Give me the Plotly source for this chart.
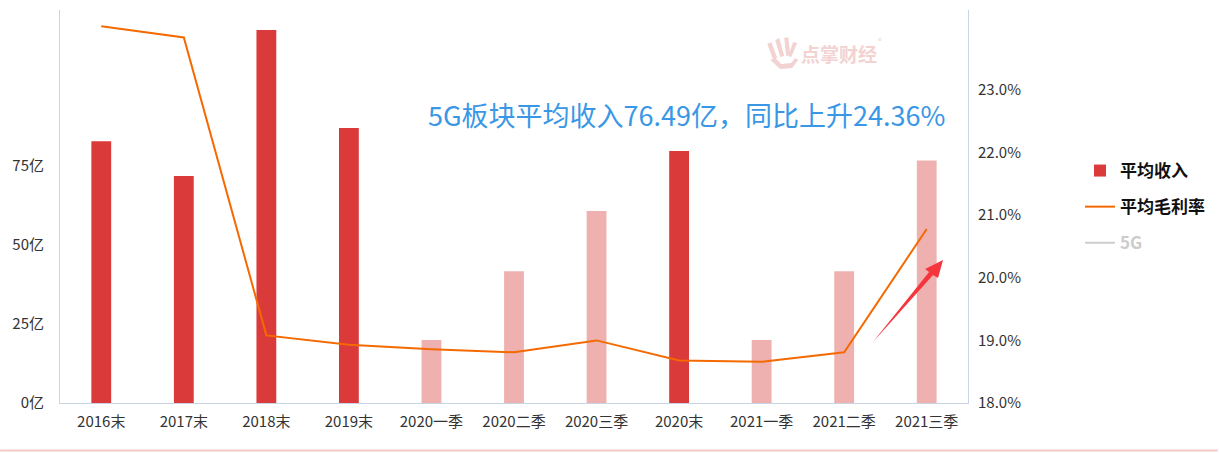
import plotly.graph_objects as go

# ---- data ----
categories = ["2016末", "2017末", "2018末", "2019末", "2020一季", "2020二季", "2020三季",
              "2020末", "2021一季", "2021二季", "2021三季"]
avg_revenue = [82.6, 71.6, 117.7, 86.8, 19.9, 41.6, 60.6, 79.5, 19.9, 41.6, 76.49]   # 亿
avg_margin = [24.02, 23.84, 19.08, 18.93, 18.86, 18.81, 19.00, 18.68, 18.66, 18.81, 20.78]  # %
fiveg_values = [None] * len(categories)   # hidden series, legend only
left_ticks = [0, 25, 50, 75]
left_labels = ["0亿", "25亿", "50亿", "75亿"]
right_ticks = [18, 19, 20, 21, 22, 23]
right_labels = ["18.0%", "19.0%", "20.0%", "21.0%", "22.0%", "23.0%"]
headline = "5G板块平均收入76.49亿，同比上升24.36%"

# ---- style ----
W, H = 1219, 453
ML, MR, MT, MB = 60, 250, 10, 50
PW, PH = W - ML - MR, H - MT - MB
DARK, LIGHT = "#DB3A3A", "#EFB0B0"
bar_colors = [DARK if c.endswith("末") else LIGHT for c in categories]
AXIS = "#C9D5E6"
FONT = "Noto Sans CJK SC"
WM = "#F3D2D2"


def px2paper(x, y):
    return (x - ML) / PW, (H - MB - y) / PH


def poly(points):
    q = [px2paper(x, y) for x, y in points]
    return "M " + " L ".join(f"{x:.4f},{y:.4f}" for x, y in q) + " Z"


fig = go.Figure()
fig.add_trace(go.Bar(
    x=categories, y=avg_revenue, name="平均收入",
    marker=dict(color=bar_colors, line=dict(width=0)),
    width=0.24, legendgroup="a", yaxis="y",
))
fig.add_trace(go.Scatter(
    x=categories, y=avg_margin, name="平均毛利率", mode="lines",
    line=dict(color="#F46A00", width=2), legendgroup="b", yaxis="y2",
))
fig.add_trace(go.Scatter(
    x=categories, y=fiveg_values, name="<span style='color:#CCCCCC'>5G</span>",
    mode="lines", line=dict(color="#CCCCCC", width=2), legendgroup="c", yaxis="y2",
))

# arrow polygon (decoration)
arrow = poly([(873, 343), (930, 272), (926, 269), (944, 260), (939, 278), (934, 275)])

# rough watermark hand logo
logo = [
    poly([(768, 44), (772, 42), (778, 58), (774, 60)]),
    poly([(776, 40), (780, 38), (785, 56), (781, 57)]),
    poly([(785, 38), (789, 37), (791, 55), (787, 56)]),
    poly([(794, 42), (798, 43), (792, 57), (789, 56)]),
    poly([(771, 60), (776, 58), (782, 64), (792, 63), (796, 58), (799, 60), (793, 68), (781, 69)]),
]

shapes = [
    dict(type="path", xref="paper", yref="paper", path=arrow,
         fillcolor="#F5363D", line=dict(width=0), layer="above"),
    dict(type="line", xref="paper", yref="paper",
         x0=px2paper(0, 0)[0], x1=px2paper(W, 0)[0],
         y0=px2paper(0, 450.5)[1], y1=px2paper(0, 450.5)[1],
         line=dict(color="#F6C8C8", width=2)),
]
for p in logo:
    shapes.append(dict(type="path", xref="paper", yref="paper", path=p,
                       fillcolor=WM, line=dict(width=0), layer="below"))

fig.update_layout(
    width=W, height=H,
    margin=dict(l=ML, r=MR, t=MT, b=MB, pad=0),
    paper_bgcolor="white", plot_bgcolor="white",
    font=dict(family=FONT, size=15, color="#333333"),
    showlegend=True,
    legend=dict(
        x=px2paper(1080, 0)[0], xanchor="left",
        y=px2paper(0, 153)[1], yanchor="top",
        font=dict(size=17, color="#111111", family=FONT, weight="bold"),
        tracegroupgap=11, traceorder="grouped",
        bgcolor="rgba(0,0,0,0)",
    ),
    bargap=0.76,
    xaxis=dict(
        type="category", showline=True, linecolor=AXIS, linewidth=1,
        showgrid=False, ticks="", ticklabelstandoff=5,
        tickfont=dict(size=15, color="#333333"), fixedrange=True,
    ),
    yaxis=dict(
        range=[0, 124], tickmode="array", tickvals=left_ticks, ticktext=left_labels,
        showline=True, linecolor=AXIS, linewidth=1, showgrid=False,
        zeroline=False, ticks="", ticklabelstandoff=12,
        tickfont=dict(size=15, color="#333333"),
    ),
    yaxis2=dict(
        overlaying="y", side="right",
        range=[18, 18 + 393 / 62.6], tickmode="array",
        tickvals=right_ticks, ticktext=right_labels,
        showline=True, linecolor=AXIS, linewidth=1, showgrid=False,
        zeroline=False, ticks="", ticklabelstandoff=6,
        tickfont=dict(size=15, color="#333333"),
    ),
    shapes=shapes,
    annotations=[
        dict(text=headline, xref="paper", yref="paper",
             x=px2paper(948, 0)[0], y=px2paper(0, 114)[1],
             xanchor="right", yanchor="middle", showarrow=False,
             font=dict(size=27, color="#3A97E6", family=FONT)),
        dict(text="点掌财经", xref="paper", yref="paper",
             x=px2paper(800, 0)[0], y=px2paper(0, 53)[1],
             xanchor="left", yanchor="middle", showarrow=False,
             font=dict(size=19, color=WM, family=FONT, weight="bold")),
        dict(text="®", xref="paper", yref="paper",
             x=px2paper(877, 0)[0], y=px2paper(0, 40)[1],
             xanchor="left", yanchor="middle", showarrow=False,
             font=dict(size=8, color=WM, family=FONT)),
    ],
)

fig.write_html("out.html")
